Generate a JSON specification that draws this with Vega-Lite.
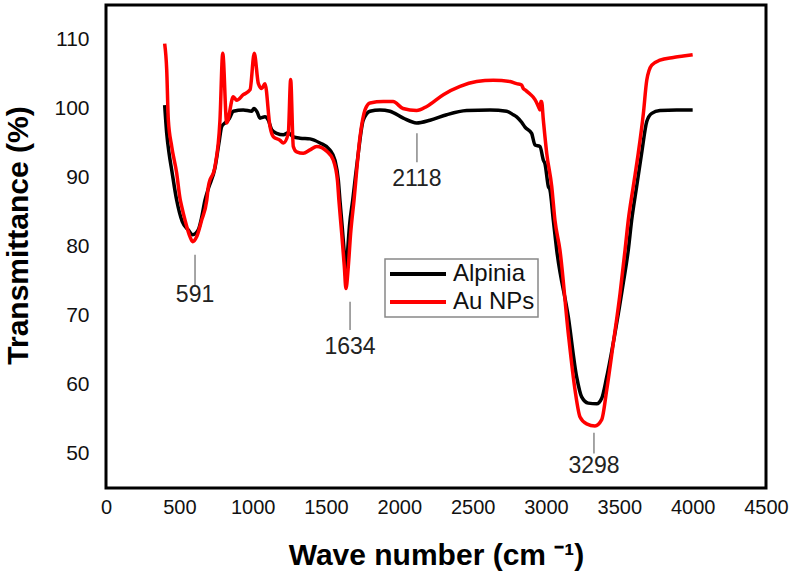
{
  "$schema": "https://vega.github.io/schema/vega-lite/v6.json",
  "width": 660,
  "height": 483,
  "autosize": {"type": "none"},
  "padding": {"left": 106, "top": 5, "right": 25, "bottom": 91},
  "background": "white",
  "config": {
    "view": {"stroke": "#000000", "strokeWidth": 3},
    "font": "Liberation Sans",
    "axis": {"grid": false, "domain": false, "ticks": false, "tickSize": 0, "labelColor": "#111111", "titleColor": "#000000", "titleFont": "Liberation Sans", "titleFontWeight": "bold", "titleFontSize": 30},
    "legend": {"strokeColor": "#888888", "strokeWidth": 1.5, "fillColor": "white"}
  },
  "datasets": {
    "spectra": [
      {"series": "Alpinia", "wn": 400, "t": 100.5},
      {"series": "Alpinia", "wn": 414, "t": 96.4},
      {"series": "Alpinia", "wn": 430, "t": 93.5},
      {"series": "Alpinia", "wn": 448, "t": 91.1},
      {"series": "Alpinia", "wn": 482, "t": 86.7},
      {"series": "Alpinia", "wn": 520, "t": 83.6},
      {"series": "Alpinia", "wn": 561, "t": 82.4},
      {"series": "Alpinia", "wn": 591, "t": 81.7},
      {"series": "Alpinia", "wn": 629, "t": 82.4},
      {"series": "Alpinia", "wn": 650, "t": 84.0},
      {"series": "Alpinia", "wn": 675, "t": 86.7},
      {"series": "Alpinia", "wn": 698, "t": 88.4},
      {"series": "Alpinia", "wn": 743, "t": 91.4},
      {"series": "Alpinia", "wn": 770, "t": 95.0},
      {"series": "Alpinia", "wn": 789, "t": 97.4},
      {"series": "Alpinia", "wn": 811, "t": 97.9},
      {"series": "Alpinia", "wn": 840, "t": 98.5},
      {"series": "Alpinia", "wn": 868, "t": 99.6},
      {"series": "Alpinia", "wn": 936, "t": 99.8},
      {"series": "Alpinia", "wn": 993, "t": 99.6},
      {"series": "Alpinia", "wn": 1009, "t": 100.0},
      {"series": "Alpinia", "wn": 1030, "t": 99.5},
      {"series": "Alpinia", "wn": 1050, "t": 98.6},
      {"series": "Alpinia", "wn": 1084, "t": 98.8},
      {"series": "Alpinia", "wn": 1107, "t": 98.3},
      {"series": "Alpinia", "wn": 1130, "t": 96.9},
      {"series": "Alpinia", "wn": 1164, "t": 96.4},
      {"series": "Alpinia", "wn": 1209, "t": 96.2},
      {"series": "Alpinia", "wn": 1243, "t": 96.5},
      {"series": "Alpinia", "wn": 1277, "t": 95.9},
      {"series": "Alpinia", "wn": 1323, "t": 95.7},
      {"series": "Alpinia", "wn": 1391, "t": 95.6},
      {"series": "Alpinia", "wn": 1459, "t": 95.0},
      {"series": "Alpinia", "wn": 1527, "t": 94.0},
      {"series": "Alpinia", "wn": 1561, "t": 92.5},
      {"series": "Alpinia", "wn": 1584, "t": 89.6},
      {"series": "Alpinia", "wn": 1595, "t": 86.7},
      {"series": "Alpinia", "wn": 1610, "t": 83.0},
      {"series": "Alpinia", "wn": 1623, "t": 79.5},
      {"series": "Alpinia", "wn": 1636, "t": 75.5},
      {"series": "Alpinia", "wn": 1648, "t": 79.5},
      {"series": "Alpinia", "wn": 1660, "t": 83.0},
      {"series": "Alpinia", "wn": 1682, "t": 86.7},
      {"series": "Alpinia", "wn": 1700, "t": 90.0},
      {"series": "Alpinia", "wn": 1720, "t": 93.5},
      {"series": "Alpinia", "wn": 1754, "t": 98.3},
      {"series": "Alpinia", "wn": 1800, "t": 99.6},
      {"series": "Alpinia", "wn": 1868, "t": 99.8},
      {"series": "Alpinia", "wn": 1936, "t": 99.6},
      {"series": "Alpinia", "wn": 2027, "t": 98.6},
      {"series": "Alpinia", "wn": 2118, "t": 97.9},
      {"series": "Alpinia", "wn": 2209, "t": 98.3},
      {"series": "Alpinia", "wn": 2323, "t": 99.1},
      {"series": "Alpinia", "wn": 2459, "t": 99.7},
      {"series": "Alpinia", "wn": 2618, "t": 99.8},
      {"series": "Alpinia", "wn": 2732, "t": 99.6},
      {"series": "Alpinia", "wn": 2777, "t": 99.1},
      {"series": "Alpinia", "wn": 2800, "t": 98.8},
      {"series": "Alpinia", "wn": 2834, "t": 98.0},
      {"series": "Alpinia", "wn": 2857, "t": 97.3},
      {"series": "Alpinia", "wn": 2902, "t": 96.4},
      {"series": "Alpinia", "wn": 2925, "t": 94.7},
      {"series": "Alpinia", "wn": 2959, "t": 94.5},
      {"series": "Alpinia", "wn": 2982, "t": 92.5},
      {"series": "Alpinia", "wn": 2993, "t": 92.0},
      {"series": "Alpinia", "wn": 3016, "t": 88.7},
      {"series": "Alpinia", "wn": 3027, "t": 88.2},
      {"series": "Alpinia", "wn": 3050, "t": 83.8},
      {"series": "Alpinia", "wn": 3073, "t": 79.5},
      {"series": "Alpinia", "wn": 3152, "t": 69.8},
      {"series": "Alpinia", "wn": 3209, "t": 61.1},
      {"series": "Alpinia", "wn": 3243, "t": 58.2},
      {"series": "Alpinia", "wn": 3288, "t": 57.3},
      {"series": "Alpinia", "wn": 3346, "t": 57.2},
      {"series": "Alpinia", "wn": 3380, "t": 58.0},
      {"series": "Alpinia", "wn": 3414, "t": 61.1},
      {"series": "Alpinia", "wn": 3470, "t": 67.4},
      {"series": "Alpinia", "wn": 3527, "t": 74.7},
      {"series": "Alpinia", "wn": 3561, "t": 79.5},
      {"series": "Alpinia", "wn": 3584, "t": 83.8},
      {"series": "Alpinia", "wn": 3618, "t": 88.7},
      {"series": "Alpinia", "wn": 3652, "t": 93.5},
      {"series": "Alpinia", "wn": 3687, "t": 98.1},
      {"series": "Alpinia", "wn": 3721, "t": 99.3},
      {"series": "Alpinia", "wn": 3777, "t": 99.7},
      {"series": "Alpinia", "wn": 3891, "t": 99.8},
      {"series": "Alpinia", "wn": 4000, "t": 99.8},
      {"series": "Au NPs", "wn": 400, "t": 109.4},
      {"series": "Au NPs", "wn": 414, "t": 105.6},
      {"series": "Au NPs", "wn": 425, "t": 98.3},
      {"series": "Au NPs", "wn": 448, "t": 94.5},
      {"series": "Au NPs", "wn": 482, "t": 90.6},
      {"series": "Au NPs", "wn": 505, "t": 86.9},
      {"series": "Au NPs", "wn": 516, "t": 85.8},
      {"series": "Au NPs", "wn": 539, "t": 83.8},
      {"series": "Au NPs", "wn": 573, "t": 81.4},
      {"series": "Au NPs", "wn": 591, "t": 80.7},
      {"series": "Au NPs", "wn": 618, "t": 81.4},
      {"series": "Au NPs", "wn": 652, "t": 83.8},
      {"series": "Au NPs", "wn": 687, "t": 86.7},
      {"series": "Au NPs", "wn": 698, "t": 88.7},
      {"series": "Au NPs", "wn": 743, "t": 91.6},
      {"series": "Au NPs", "wn": 777, "t": 98.3},
      {"series": "Au NPs", "wn": 796, "t": 108.0},
      {"series": "Au NPs", "wn": 823, "t": 97.9},
      {"series": "Au NPs", "wn": 868, "t": 101.7},
      {"series": "Au NPs", "wn": 891, "t": 101.2},
      {"series": "Au NPs", "wn": 936, "t": 102.0},
      {"series": "Au NPs", "wn": 982, "t": 102.7},
      {"series": "Au NPs", "wn": 1011, "t": 108.0},
      {"series": "Au NPs", "wn": 1039, "t": 103.6},
      {"series": "Au NPs", "wn": 1062, "t": 102.9},
      {"series": "Au NPs", "wn": 1084, "t": 103.6},
      {"series": "Au NPs", "wn": 1118, "t": 97.4},
      {"series": "Au NPs", "wn": 1141, "t": 95.9},
      {"series": "Au NPs", "wn": 1186, "t": 95.4},
      {"series": "Au NPs", "wn": 1209, "t": 95.0},
      {"series": "Au NPs", "wn": 1243, "t": 96.4},
      {"series": "Au NPs", "wn": 1259, "t": 104.2},
      {"series": "Au NPs", "wn": 1277, "t": 94.5},
      {"series": "Au NPs", "wn": 1300, "t": 93.7},
      {"series": "Au NPs", "wn": 1345, "t": 93.5},
      {"series": "Au NPs", "wn": 1391, "t": 94.0},
      {"series": "Au NPs", "wn": 1437, "t": 94.5},
      {"series": "Au NPs", "wn": 1505, "t": 93.8},
      {"series": "Au NPs", "wn": 1550, "t": 92.5},
      {"series": "Au NPs", "wn": 1578, "t": 89.6},
      {"series": "Au NPs", "wn": 1588, "t": 86.7},
      {"series": "Au NPs", "wn": 1607, "t": 81.9},
      {"series": "Au NPs", "wn": 1625, "t": 77.1},
      {"series": "Au NPs", "wn": 1636, "t": 73.9},
      {"series": "Au NPs", "wn": 1652, "t": 77.1},
      {"series": "Au NPs", "wn": 1668, "t": 81.9},
      {"series": "Au NPs", "wn": 1691, "t": 86.7},
      {"series": "Au NPs", "wn": 1732, "t": 95.9},
      {"series": "Au NPs", "wn": 1766, "t": 99.8},
      {"series": "Au NPs", "wn": 1800, "t": 100.8},
      {"series": "Au NPs", "wn": 1891, "t": 101.0},
      {"series": "Au NPs", "wn": 1957, "t": 101.0},
      {"series": "Au NPs", "wn": 2025, "t": 100.0},
      {"series": "Au NPs", "wn": 2118, "t": 99.7},
      {"series": "Au NPs", "wn": 2187, "t": 100.3},
      {"series": "Au NPs", "wn": 2300, "t": 102.0},
      {"series": "Au NPs", "wn": 2414, "t": 103.2},
      {"series": "Au NPs", "wn": 2527, "t": 103.9},
      {"series": "Au NPs", "wn": 2641, "t": 104.1},
      {"series": "Au NPs", "wn": 2755, "t": 103.9},
      {"series": "Au NPs", "wn": 2800, "t": 103.6},
      {"series": "Au NPs", "wn": 2834, "t": 103.4},
      {"series": "Au NPs", "wn": 2845, "t": 102.9},
      {"series": "Au NPs", "wn": 2857, "t": 102.7},
      {"series": "Au NPs", "wn": 2891, "t": 102.1},
      {"series": "Au NPs", "wn": 2925, "t": 101.3},
      {"series": "Au NPs", "wn": 2948, "t": 100.3},
      {"series": "Au NPs", "wn": 2959, "t": 99.8},
      {"series": "Au NPs", "wn": 2964, "t": 101.0},
      {"series": "Au NPs", "wn": 2970, "t": 101.0},
      {"series": "Au NPs", "wn": 2982, "t": 98.3},
      {"series": "Au NPs", "wn": 3005, "t": 93.5},
      {"series": "Au NPs", "wn": 3039, "t": 88.7},
      {"series": "Au NPs", "wn": 3061, "t": 83.8},
      {"series": "Au NPs", "wn": 3095, "t": 79.5},
      {"series": "Au NPs", "wn": 3152, "t": 67.4},
      {"series": "Au NPs", "wn": 3198, "t": 59.2},
      {"series": "Au NPs", "wn": 3232, "t": 55.3},
      {"series": "Au NPs", "wn": 3277, "t": 54.3},
      {"series": "Au NPs", "wn": 3334, "t": 54.0},
      {"series": "Au NPs", "wn": 3380, "t": 54.9},
      {"series": "Au NPs", "wn": 3414, "t": 59.2},
      {"series": "Au NPs", "wn": 3459, "t": 66.0},
      {"series": "Au NPs", "wn": 3505, "t": 73.2},
      {"series": "Au NPs", "wn": 3539, "t": 79.5},
      {"series": "Au NPs", "wn": 3561, "t": 83.8},
      {"series": "Au NPs", "wn": 3595, "t": 88.7},
      {"series": "Au NPs", "wn": 3629, "t": 93.5},
      {"series": "Au NPs", "wn": 3664, "t": 99.3},
      {"series": "Au NPs", "wn": 3687, "t": 104.1},
      {"series": "Au NPs", "wn": 3721, "t": 106.3},
      {"series": "Au NPs", "wn": 3777, "t": 107.0},
      {"series": "Au NPs", "wn": 3868, "t": 107.4},
      {"series": "Au NPs", "wn": 3936, "t": 107.6},
      {"series": "Au NPs", "wn": 4000, "t": 107.8}
    ],
    "peaks": [
      {"label": "591", "wn": 607, "top": 78.8, "bottom": 74.4, "ty": 73.0},
      {"label": "1634", "wn": 1664, "top": 72.0, "bottom": 67.9, "ty": 65.4},
      {"label": "2118", "wn": 2120, "top": 96.4, "bottom": 92.2, "ty": 89.8},
      {"label": "3298", "wn": 3327, "top": 53.0, "bottom": 50.0, "ty": 48.2}
    ]
  },
  "layer": [
    {
      "data": {"name": "spectra"},
      "mark": {"type": "line", "strokeWidth": 3.5, "strokeJoin": "round", "interpolate": "monotone"},
      "encoding": {
        "x": {"field": "wn", "type": "quantitative", "scale": {"domain": [0, 4500], "nice": false, "zero": false},
          "axis": {"values": [0, 500, 1000, 1500, 2000, 2500, 3000, 3500, 4000, 4500], "format": "d", "labelFontSize": 20, "labelPadding": 9, "labelFlush": false, "title": "Wave number (cm ⁻¹)", "titleY": 67, "titleBaseline": "middle"}},
        "y": {"field": "t", "type": "quantitative", "scale": {"domain": [45, 115], "nice": false, "zero": false},
          "axis": {"values": [50, 60, 70, 80, 90, 100, 110], "labelFontSize": 21, "labelPadding": 17, "title": "Transmittance (%)", "titleX": -88, "titleY": 230, "titleAlign": "center", "titleBaseline": "middle", "titleAngle": -90}},
        "color": {"field": "series", "type": "nominal", "scale": {"domain": ["Alpinia", "Au NPs"], "range": ["#000000", "#ff0000"]},
          "legend": {"title": null, "orient": "none", "legendX": 279, "legendY": 254, "symbolType": "stroke", "symbolSize": 3136, "symbolStrokeWidth": 4, "clipHeight": 24, "labelFontSize": 24, "labelColor": "#111111", "labelOffset": 5, "padding": 3, "rowPadding": 4}}
      }
    },
    {
      "data": {"name": "peaks"},
      "mark": {"type": "rule", "color": "#888888", "strokeWidth": 1.5},
      "encoding": {
        "x": {"field": "wn", "type": "quantitative"},
        "y": {"field": "top", "type": "quantitative"},
        "y2": {"field": "bottom"}
      }
    },
    {
      "data": {"name": "peaks"},
      "mark": {"type": "text", "fontSize": 23, "color": "#222222", "baseline": "middle", "align": "center"},
      "encoding": {
        "x": {"field": "wn", "type": "quantitative"},
        "y": {"field": "ty", "type": "quantitative"},
        "text": {"field": "label"}
      }
    }
  ]
}
